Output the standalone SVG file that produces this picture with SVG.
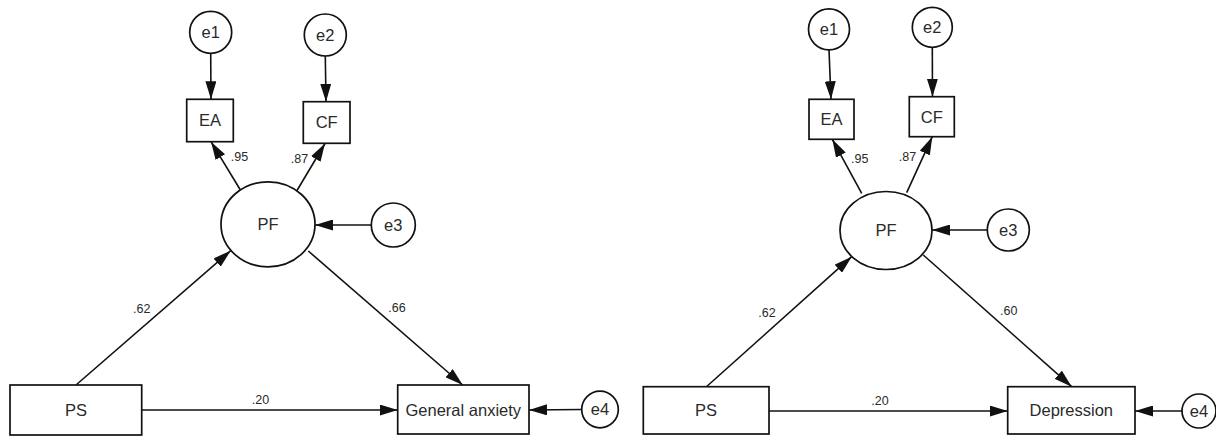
<svg xmlns="http://www.w3.org/2000/svg" width="1216" height="437" viewBox="0 0 1216 437">
<defs>
<style>
.n{fill:#fff;stroke:#111;stroke-width:1.7}
.t{font-family:"Liberation Sans",Arial,sans-serif;font-size:16.5px;fill:#2a2a2a;text-anchor:middle}
.l{font-family:"Liberation Sans",Arial,sans-serif;font-size:12.5px;fill:#2a2a2a;text-anchor:middle}
.c{fill:none;stroke:#111;stroke-width:1.6;marker-end:url(#ah)}
</style>
<marker id="ah" markerUnits="userSpaceOnUse" viewBox="0 0 18 11" refX="18" refY="5.5" markerWidth="18" markerHeight="11" orient="auto">
<path d="M0,0 L18,5.5 L0,11 z" fill="#111"/>
</marker>
</defs>
<rect width="1216" height="437" fill="#fff"/>

<g id="connectors">
<!-- left model -->
<line class="c" x1="210.7" y1="53.5" x2="211" y2="99.3"/>
<line class="c" x1="325.3" y1="56" x2="326" y2="101.7"/>
<line class="c" x1="241" y1="191" x2="211" y2="141.7"/>
<line class="c" x1="296.7" y1="191" x2="325" y2="143.5"/>
<line class="c" x1="371.3" y1="225" x2="315" y2="225"/>
<line class="c" x1="76" y1="385" x2="230.7" y2="250.7"/>
<line class="c" x1="308.3" y1="251" x2="462.7" y2="385"/>
<line class="c" x1="141.7" y1="410" x2="397.7" y2="410"/>
<line class="c" x1="581.7" y1="409.5" x2="529" y2="410"/>
<!-- right model -->
<line class="c" x1="829" y1="50" x2="831" y2="99.3"/>
<line class="c" x1="932.3" y1="47.5" x2="932.5" y2="96.7"/>
<line class="c" x1="861.7" y1="193.3" x2="832.3" y2="139.3"/>
<line class="c" x1="906.7" y1="192.7" x2="932.3" y2="136.7"/>
<line class="c" x1="987.3" y1="230" x2="932" y2="230"/>
<line class="c" x1="706.7" y1="386.5" x2="851.7" y2="256.7"/>
<line class="c" x1="923.3" y1="255" x2="1071.7" y2="386.7"/>
<line class="c" x1="769" y1="411" x2="1007.7" y2="411"/>
<line class="c" x1="1182" y1="411" x2="1135" y2="411"/>
</g>

<g id="edge-labels">
<text class="l" x="239.5" y="161">.95</text>
<text class="l" x="299.5" y="162.5">.87</text>
<text class="l" x="397" y="312">.66</text>
<text class="l" x="141.7" y="312.8">.62</text>
<text class="l" x="260.5" y="403.8">.20</text>
<text class="l" x="859.7" y="162.8">.95</text>
<text class="l" x="907.5" y="161">.87</text>
<text class="l" x="1008.7" y="315">.60</text>
<text class="l" x="767" y="316.8">.62</text>
<text class="l" x="880" y="405">.20</text>
</g>

<!-- left model nodes -->
<g id="L_e1"><circle class="n" cx="210.7" cy="32.3" r="21"/><text class="t" x="210.7" y="38">e1</text></g>
<g id="L_e2"><circle class="n" cx="325.3" cy="35" r="21"/><text class="t" x="325.3" y="40.8">e2</text></g>
<g id="L_EA"><rect class="n" x="186.7" y="99.3" width="46.6" height="42.4"/><text class="t" x="210" y="126.4">EA</text></g>
<g id="L_CF"><rect class="n" x="303.3" y="101.7" width="46.7" height="41.6"/><text class="t" x="326.7" y="128.4">CF</text></g>
<g id="L_PF"><ellipse class="n" cx="268" cy="224.3" rx="47" ry="42.5"/><text class="t" x="268" y="230.2">PF</text></g>
<g id="L_e3"><circle class="n" cx="393.3" cy="225" r="22"/><text class="t" x="393.3" y="230.8">e3</text></g>
<g id="L_PS"><rect class="n" x="10" y="385" width="131.7" height="50"/><text class="t" x="76" y="415.9">PS</text></g>
<g id="L_GA"><rect class="n" x="397.7" y="385" width="131.3" height="49"/><text class="t" x="463.3" y="415.9">General anxiety</text></g>
<g id="L_e4"><circle class="n" cx="600" cy="409.5" r="18.3"/><text class="t" x="600" y="415.3">e4</text></g>

<!-- right model nodes -->
<g id="R_e1"><circle class="n" cx="829" cy="29.3" r="20.5"/><text class="t" x="829" y="35.1">e1</text></g>
<g id="R_e2"><circle class="n" cx="932.3" cy="27.3" r="20"/><text class="t" x="932.3" y="33.1">e2</text></g>
<g id="R_EA"><rect class="n" x="809" y="99.3" width="45" height="40"/><text class="t" x="831.5" y="125.2">EA</text></g>
<g id="R_CF"><rect class="n" x="909.3" y="96.7" width="45" height="40"/><text class="t" x="931.8" y="122.6">CF</text></g>
<g id="R_PF"><ellipse class="n" cx="886" cy="230.5" rx="46" ry="39"/><text class="t" x="886" y="236.3">PF</text></g>
<g id="R_e3"><circle class="n" cx="1008.3" cy="230" r="21"/><text class="t" x="1008.3" y="235.8">e3</text></g>
<g id="R_PS"><rect class="n" x="643.3" y="386.7" width="125.7" height="47.3"/><text class="t" x="706" y="416.2">PS</text></g>
<g id="R_Dep"><rect class="n" x="1007.7" y="386.7" width="127.3" height="47.3"/><text class="t" x="1071.3" y="416.2">Depression</text></g>
<g id="R_e4"><circle class="n" cx="1199" cy="411" r="17"/><text class="t" x="1199" y="416.8">e4</text></g>
</svg>
